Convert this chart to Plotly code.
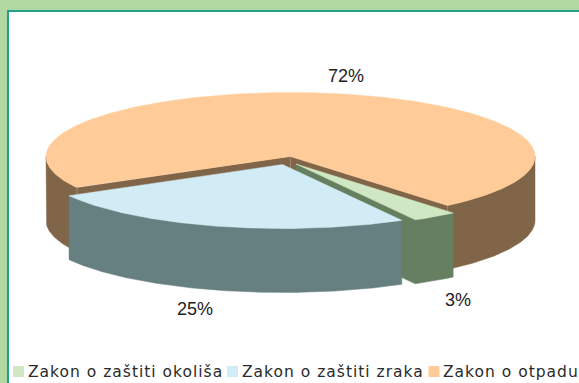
import numpy as np
import plotly.graph_objects as go

categories = ["Zakon o zaštiti okoliša", "Zakon o zaštiti zraka", "Zakon o otpadu"]
values = [3, 25, 72]
value_labels = ["3%", "25%", "72%"]
top_colors = ["#CFE8C3", "#D2ECF5", "#FFCC99"]
side_colors = ["#657F60", "#667F80", "#806548"]

# Projection of the tilted disc, in screen pixels
RX, RY, DEPTH = 244.5, 64.0, 64.0
START = 50.0
centers = [(296.0, 164.0), (282.5, 164.5), (290.5, 156.5)]
label_pos = [(458, 300), (195, 309), (346, 76)]
legend_swatch_x = [18.5, 232.5, 434]
legend_text_x = [28, 242, 443]
LEGEND_Y = 371.5

fig = go.Figure()


def arc(c, a0, a1, dy=0.0):
    t = np.radians(np.linspace(a0, a1, max(int(abs(a1 - a0) * 2), 2)))
    return c[0] + RX * np.cos(t), c[1] + RY * np.sin(t) + dy


def poly(x, y, color, name):
    fig.add_trace(go.Scatter(x=list(x), y=list(y), mode="lines", fill="toself", fillcolor=color,
                             line=dict(width=0.5, color=color), hoverinfo="name", name=name,
                             showlegend=False))


def side(c, a0, a1, color, name):
    x, y = arc(c, a0, a1)
    xb, yb = arc(c, a0, a1, DEPTH)
    poly(np.r_[x, xb[::-1], x[0]], np.r_[y, yb[::-1], y[0]], color, name)


def wall(c, a, color, name):
    x, y = arc(c, a, a + 0.01)
    poly([c[0], x[0], x[0], c[0], c[0]],
         [c[1], y[0], y[0] + DEPTH, c[1] + DEPTH, c[1]], color, name)


def edge(xs, ys):
    fig.add_trace(go.Scatter(x=xs, y=ys, mode="lines", line=dict(width=1, color="#9C8A76"),
                             hoverinfo="skip", showlegend=False))


total = sum(values)
spans = [v / total * 360 for v in values]
bounds = START + np.cumsum([0] + spans)

# Orange slice (drawn first: it sits behind the two exploded ones)
o0, o1 = bounds[2], bounds[3]
c = centers[2]
side(c, o0, 180, side_colors[2], categories[2])
side(c, 360, o1, side_colors[2], categories[2])
wall(c, o0, side_colors[2], categories[2])
wall(c, o1, side_colors[2], categories[2])
ax, ay = arc(c, o0, o0 + 0.01)
bx, by = arc(c, o1, o1 + 0.01)
edge([c[0], c[0]], [c[1], c[1] + DEPTH])
edge([ax[0], ax[0]], [ay[0], ay[0] + DEPTH])
edge([bx[0], bx[0]], [by[0], by[0] + DEPTH])
x, y = arc(c, o0, o1)
poly(np.r_[c[0], x, c[0]], np.r_[c[1], y, c[1]], top_colors[2], categories[2])

# Green slice: outer side and cut wall as a single outline, so no seam shows
g0, g1 = bounds[0], bounds[1]
c = centers[0]
x, y = arc(c, g0, g1)
xb, yb = arc(c, g0, g1, DEPTH)
poly(np.r_[x, c[0], c[0], xb[::-1], x[0]],
     np.r_[y, c[1], c[1] + DEPTH, yb[::-1], y[0]],
     side_colors[0], categories[0])
poly(np.r_[c[0], x, c[0]], np.r_[c[1], y, c[1]], top_colors[0], categories[0])

# Blue slice
b0, b1 = bounds[1], bounds[2]
c = centers[1]
side(c, b0, b1, side_colors[1], categories[1])
x, y = arc(c, b0, b1)
poly(np.r_[c[0], x, c[0]], np.r_[c[1], y, c[1]], top_colors[1], categories[1])

# Legend swatches
fig.add_trace(go.Scatter(x=legend_swatch_x, y=[LEGEND_Y] * 3, mode="markers",
                         marker=dict(symbol="square", size=11, color=top_colors, line=dict(width=0)),
                         hoverinfo="skip", showlegend=False))

annotations = [dict(x=px, y=py, text=t, showarrow=False, xanchor="center", yanchor="middle",
                    font=dict(family="Liberation Sans", size=18, color="#222222"))
               for (px, py), t in zip(label_pos, value_labels)]
annotations += [dict(x=px, y=LEGEND_Y, text=t, showarrow=False, xanchor="left", yanchor="middle",
                     xshift=-2, font=dict(family="DejaVu Sans", size=15.5, color="#2A2A2A"))
                for px, t in zip(legend_text_x, categories)]

fig.update_layout(
    width=579, height=383, margin=dict(l=0, r=0, t=0, b=0),
    paper_bgcolor="#B0D8A0", plot_bgcolor="rgba(0,0,0,0)", showlegend=False,
    xaxis=dict(range=[0, 579], visible=False, fixedrange=True),
    yaxis=dict(range=[383, 0], visible=False, fixedrange=True),
    annotations=annotations,
    shapes=[dict(type="rect", layer="below", x0=8, y0=11, x1=600, y1=400,
                 fillcolor="white", line=dict(color="#22A08C", width=2))],
)

post = """
document.body.style.margin='0';
document.querySelectorAll('.annotation-text').forEach(function(t){
  if ((t.style.fontFamily||'').indexOf('DejaVu')>=0){
    var before = t.getBBox().x;
    t.style.letterSpacing='1px';
    var after = t.getBBox().x;
    t.setAttribute('x', parseFloat(t.getAttribute('x')) + before - after);
  }
});
"""
fig.write_html("out.html", config=dict(displayModeBar=False), post_script=post)
